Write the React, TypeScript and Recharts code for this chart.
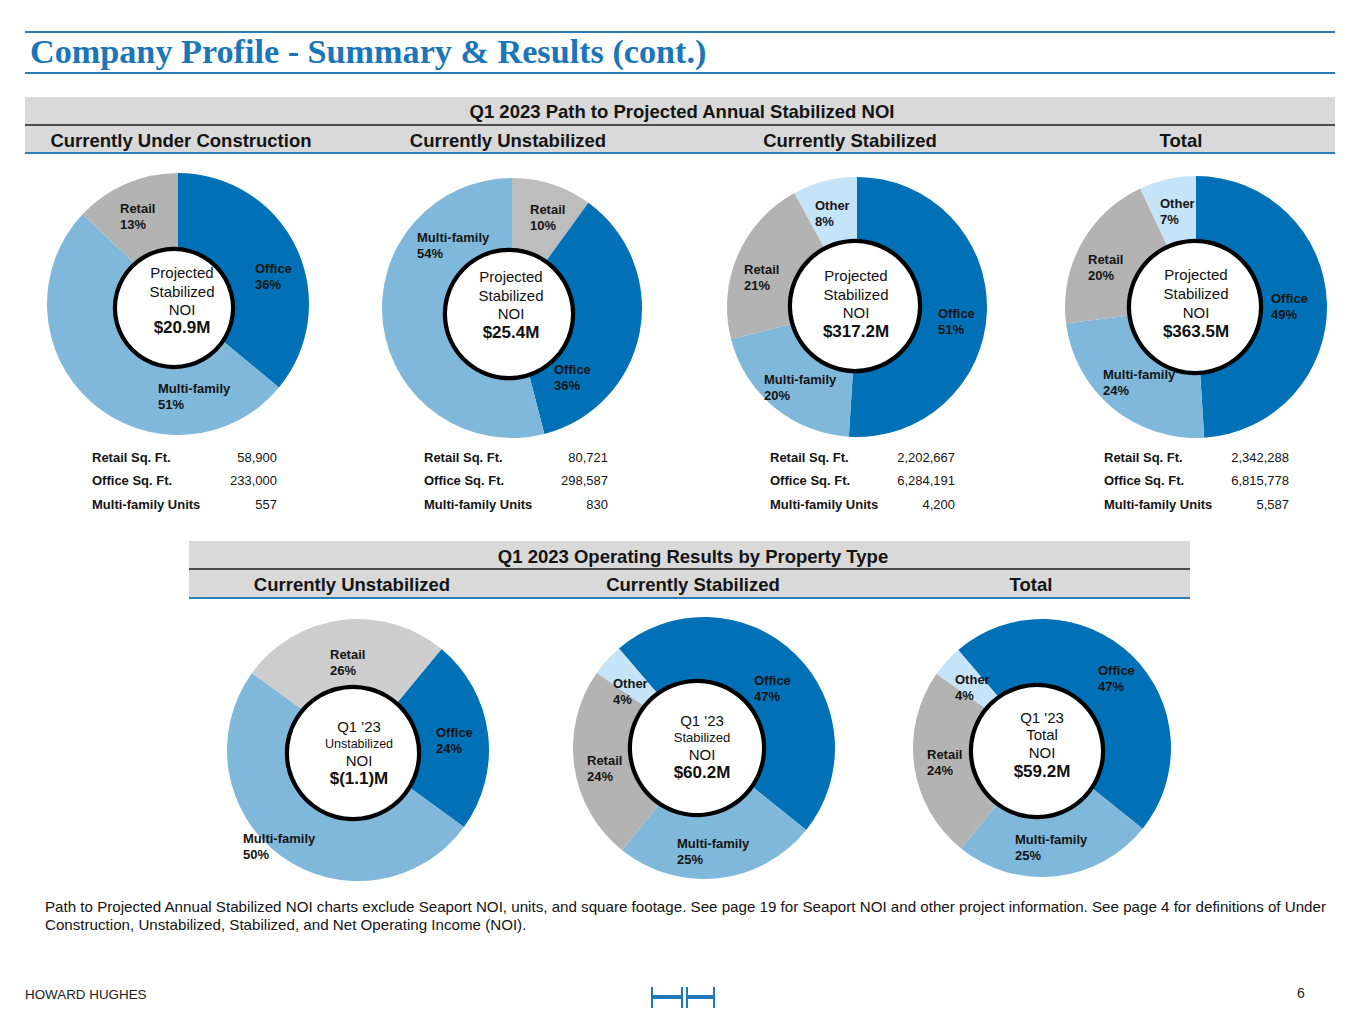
import type { ReactNode } from 'react'
import { Cell, Pie, PieChart } from 'recharts'

const FONT = '"Liberation Sans", Arial, Helvetica, sans-serif'
const SERIF = '"Liberation Serif", "Times New Roman", serif'
const INK = '#141414'
const BLUE = '#1B75B9'

const OFFICE = '#0071B6'
const MULTI = '#7FB8DB'
const RETAIL = '#B3B3B3'
const OTHER = '#C6E4F8'
const COLORS: Record<string, string> = { Office: OFFICE, 'Multi-family': MULTI, Retail: RETAIL, Other: OTHER }

// --- data ---
const ucCategories = ['Office', 'Multi-family', 'Retail']
const ucShares = [36, 51, 13]
const unstabCategories = ['Retail', 'Office', 'Multi-family']
const unstabShares = [10, 36, 54]
const stabCategories = ['Office', 'Multi-family', 'Retail', 'Other']
const stabShares = [51, 20, 21, 8]
const totalCategories = ['Office', 'Multi-family', 'Retail', 'Other']
const totalShares = [49, 24, 20, 7]

const opsUnstabCategories = ['Office', 'Multi-family', 'Retail']
const opsUnstabShares = [24, 50, 26]
const opsStabCategories = ['Office', 'Multi-family', 'Retail', 'Other']
const opsStabShares = [47, 25, 24, 4]
const opsTotalCategories = ['Office', 'Multi-family', 'Retail', 'Other']
const opsTotalShares = [47, 25, 24, 4]

const projectedCaption = ['Projected', 'Stabilized', 'NOI']
const noiValues = ['$20.9M', '$25.4M', '$317.2M', '$363.5M', '$(1.1)M', '$60.2M', '$59.2M']

const statLabels = ['Retail Sq. Ft.', 'Office Sq. Ft.', 'Multi-family Units']
const ucStats = ['58,900', '233,000', '557']
const unstabStats = ['80,721', '298,587', '830']
const stabStats = ['2,202,667', '6,284,191', '4,200']
const totalStats = ['2,342,288', '6,815,778', '5,587']

const topHeaders = ['Currently Under Construction', 'Currently Unstabilized', 'Currently Stabilized', 'Total']
const bottomHeaders = ['Currently Unstabilized', 'Currently Stabilized', 'Total']

// --- layout ---
type Donut = {
  categories: string[]
  shares: number[]
  cx: number
  cy: number
  r: number
  start: number
  ring: [number, number, number]
  labels: [number, number][]
  retail?: string
  caption: { text: string; size: number; bold?: boolean }[]
  captionX: number
  captionY: number[]
}

const cap = (lines: string[], total: string, sizes = [15, 15, 15]) => [
  ...lines.map((text, i) => ({ text, size: sizes[i] })),
  { text: total, size: 17, bold: true },
]

const donuts: Donut[] = [
  {
    categories: ucCategories, shares: ucShares, cx: 178, cy: 304, r: 131, start: 90,
    ring: [-4, 4, 59], labels: [[77, -31], [-20, 89], [-58, -91]],
    caption: cap(projectedCaption, noiValues[0]), captionX: 182, captionY: [273, 292, 310, 328],
  },
  {
    categories: unstabCategories, shares: unstabShares, cx: 512, cy: 308, r: 130, start: 90,
    ring: [-3, 6, 64], labels: [[18, -94], [42, 66], [-95, -66]], retail: '#BDBDBD',
    caption: cap(projectedCaption, noiValues[1]), captionX: 511, captionY: [277, 296, 314, 333],
  },
  {
    categories: stabCategories, shares: stabShares, cx: 857, cy: 307, r: 130, start: 90,
    ring: [-2, -1, 65], labels: [[81, 11], [-93, 77], [-113, -33], [-42, -97]],
    caption: cap(projectedCaption, noiValues[2]), captionX: 856, captionY: [276, 295, 313, 332],
  },
  {
    categories: totalCategories, shares: totalShares, cx: 1196, cy: 307, r: 131, start: 90,
    ring: [-1, 0, 66], labels: [[75, -4], [-93, 72], [-108, -43], [-36, -99]],
    caption: cap(projectedCaption, noiValues[3]), captionX: 1196, captionY: [275, 294, 313, 332],
  },
  {
    categories: opsUnstabCategories, shares: opsUnstabShares, cx: 358, cy: 750, r: 131, start: 50.4,
    ring: [-5, 3, 66], labels: [[78, -13], [-115, 93], [-28, -91]], retail: '#CDCDCD',
    caption: cap(["Q1 '23", 'Unstabilized', 'NOI'], noiValues[4], [15, 12.5, 15]), captionX: 359, captionY: [727, 744, 761, 779],
  },
  {
    categories: opsStabCategories, shares: opsStabShares, cx: 704, cy: 748, r: 131, start: 130.5,
    ring: [-7, 0, 67], labels: [[50, -63], [-27, 100], [-117, 17], [-91, -60]],
    caption: cap(["Q1 '23", 'Stabilized', 'NOI'], noiValues[5], [15, 13, 15]), captionX: 702, captionY: [721, 738, 755, 773],
  },
  {
    categories: opsTotalCategories, shares: opsTotalShares, cx: 1042, cy: 748, r: 129, start: 130.5,
    ring: [-5, 3, 66], labels: [[56, -73], [-27, 96], [-115, 11], [-87, -64]],
    caption: cap(["Q1 '23", 'Total', 'NOI'], noiValues[6]), captionX: 1042, captionY: [718, 735, 753, 772],
  },
]

const statTables = [
  { values: ucStats, left: 92, right: 277 },
  { values: unstabStats, left: 424, right: 608 },
  { values: stabStats, left: 770, right: 955 },
  { values: totalStats, left: 1104, right: 1289 },
]
const statRowsY = [458, 481, 505]

function Txt({
  x, y, size = 13, bold = false, align = 'left', color = INK, family = FONT, children,
}: {
  x: number; y: number; size?: number; bold?: boolean; align?: 'left' | 'center' | 'right'
  color?: string; family?: string; children: ReactNode
}) {
  const w = 1400
  const left = align === 'left' ? x : align === 'center' ? x - w / 2 : x - w
  return (
    <div
      style={{
        position: 'absolute', left, top: y - size, width: w, height: size * 2, lineHeight: `${size * 2}px`,
        fontSize: size, fontWeight: bold ? 700 : 400, color, fontFamily: family, textAlign: align, whiteSpace: 'nowrap',
      }}
    >
      {children}
    </div>
  )
}

function Box({ x, y, w, h, color }: { x: number; y: number; w: number; h: number; color: string }) {
  return <div style={{ position: 'absolute', left: x, top: y, width: w, height: h, background: color }} />
}

function DonutChart({ d }: { d: Donut }) {
  const S = 300
  const c = S / 2
  const data = d.categories.map((name, i) => ({ name, value: d.shares[i] }))
  const fillOf = (name: string) => (name === 'Retail' && d.retail ? d.retail : COLORS[name])
  const [rdx, rdy, rr] = d.ring
  const renderLabel = (p: any) => {
    const [dx, dy] = d.labels[p.index]
    const x = c + dx
    const y = c + dy
    return (
      <text x={x} y={y} fill={INK} fontSize={13} fontWeight={700} fontFamily={FONT}>
        <tspan x={x}>{p.payload.name}</tspan>
        <tspan x={x} dy={16}>{p.payload.value}%</tspan>
      </text>
    )
  }
  return (
    <div style={{ position: 'absolute', left: d.cx - c, top: d.cy - c }}>
      <PieChart width={S} height={S} margin={{ top: 0, right: 0, bottom: 0, left: 0 }}>
        <Pie
          data={data} dataKey="value" nameKey="name" cx={c} cy={c} innerRadius={0} outerRadius={d.r}
          startAngle={d.start} endAngle={d.start - 360} stroke="none" isAnimationActive={false}
        >
          {data.map((e) => <Cell key={e.name} fill={fillOf(e.name)} />)}
        </Pie>
        <Pie
          data={[{ value: 1 }]} dataKey="value" cx={c + rdx} cy={c + rdy} innerRadius={0} outerRadius={rr}
          fill="#ffffff" stroke="none" isAnimationActive={false}
        />
        <Pie
          data={[{ value: 1 }]} dataKey="value" cx={c + rdx} cy={c + rdy} innerRadius={rr - 2} outerRadius={rr + 2.2}
          fill="#000000" stroke="none" isAnimationActive={false}
        />
        <Pie
          data={data} dataKey="value" nameKey="name" cx={c} cy={c} innerRadius={0} outerRadius={d.r}
          startAngle={d.start} endAngle={d.start - 360} fill="transparent" stroke="none"
          label={renderLabel} labelLine={false} isAnimationActive={false}
        />
      </PieChart>
    </div>
  )
}

export default function App() {
  return (
    <div
      style={{
        position: 'absolute', left: 0, top: 0, width: 1365, height: 1024, background: '#fff',
        overflow: 'hidden', fontFamily: FONT,
      }}
    >
      {/* title */}
      <Box x={25} y={31} w={1310} h={2} color="#2A7BBA" />
      <Txt x={30} y={52} size={34.2} bold color={BLUE} family={SERIF}>
        Company Profile - Summary &amp; Results (cont.)
      </Txt>
      <Box x={25} y={72} w={1310} h={2} color="#2A7BBA" />

      {/* top header */}
      <Box x={25} y={97} w={1310} h={56} color="#D9D9D9" />
      <Box x={25} y={124} w={1310} h={1.5} color="#4D4D4D" />
      <Box x={25} y={152} w={1310} h={2} color="#2E7DBB" />
      <Txt x={682} y={111} size={18.5} bold align="center">Q1 2023 Path to Projected Annual Stabilized NOI</Txt>
      {topHeaders.map((h, i) => (
        <Txt key={h} x={[181, 508, 850, 1181][i]} y={140} size={18.5} bold align="center">{h}</Txt>
      ))}

      {/* bottom header */}
      <Box x={189} y={541} w={1001} h={57} color="#D9D9D9" />
      <Box x={189} y={568} w={1001} h={1.5} color="#4D4D4D" />
      <Box x={189} y={597} w={1001} h={2} color="#2E7DBB" />
      <Txt x={693} y={556} size={18.5} bold align="center">Q1 2023 Operating Results by Property Type</Txt>
      {bottomHeaders.map((h, i) => (
        <Txt key={h} x={[352, 693, 1031][i]} y={584} size={18.5} bold align="center">{h}</Txt>
      ))}

      {donuts.map((d, i) => <DonutChart key={i} d={d} />)}

      {donuts.map((d, i) =>
        d.caption.map((line, j) => (
          <Txt key={`${i}-${j}`} x={d.captionX} y={d.captionY[j]} size={line.size} bold={line.bold} align="center" color="#111">
            {line.text}
          </Txt>
        )),
      )}

      {statTables.map((t, i) =>
        statLabels.map((label, j) => (
          <div key={`${i}-${j}`}>
            <Txt x={t.left} y={statRowsY[j]} size={13} bold>{label}</Txt>
            <Txt x={t.right} y={statRowsY[j]} size={13} align="right">{t.values[j]}</Txt>
          </div>
        )),
      )}

      {/* footnote */}
      <Txt x={45} y={907} size={15.15}>
        Path to Projected Annual Stabilized NOI charts exclude Seaport NOI, units, and square footage. See page 19 for Seaport NOI and other project information. See page 4 for definitions of Under
      </Txt>
      <Txt x={45} y={925} size={15.15}>
        Construction, Unstabilized, Stabilized, and Net Operating Income (NOI).
      </Txt>

      {/* footer */}
      <Txt x={25} y={995} size={13.4} color="#222">HOWARD HUGHES</Txt>
      <Box x={651} y={987} w={2} h={21} color="#1F78B8" />
      <Box x={681} y={987} w={2} h={21} color="#1F78B8" />
      <Box x={651} y={995} w={32} h={4} color="#1F78B8" />
      <Box x={686} y={987} w={2} h={21} color="#1F78B8" />
      <Box x={713} y={987} w={2} h={21} color="#1F78B8" />
      <Box x={686} y={995} w={29} h={4} color="#1F78B8" />
      <Txt x={1297} y={993} size={14} color="#222">6</Txt>
    </div>
  )
}
